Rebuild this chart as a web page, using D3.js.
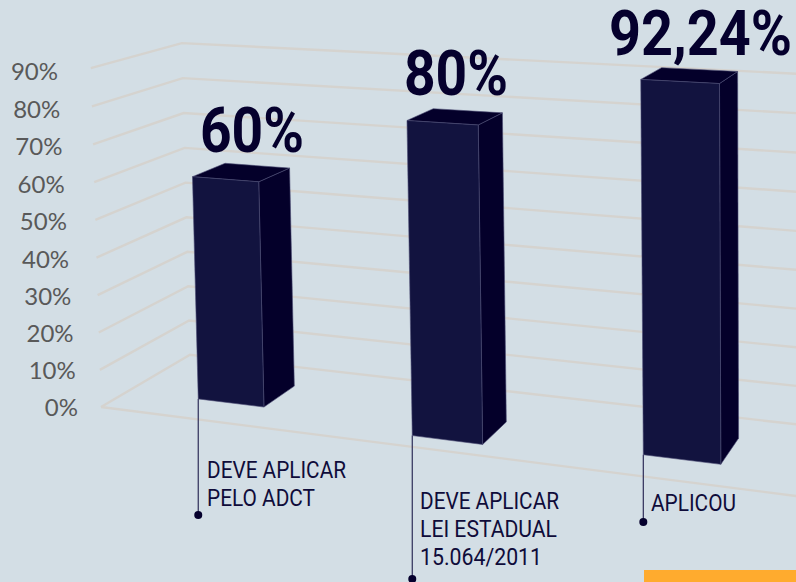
<!DOCTYPE html>
<html>
<head>
<meta charset="utf-8">
<script src="https://d3js.org/d3.v7.min.js"></script>
<style>
  html, body { margin: 0; padding: 0; background: #d3dee5; overflow: hidden; }
  svg { display: block; }
</style>
</head>
<body>
<div id="chart"></div>
<script>
var width = 796,
  height = 582;

// chart values
var ticks = [0, 10, 20, 30, 40, 50, 60, 70, 80, 90];
var values = [60, 80, 92.24];
var valueLabels = ["60%", "80%", "92,24%"];
var categories = [
  ["DEVE APLICAR", "PELO ADCT"],
  ["DEVE APLICAR", "LEI ESTADUAL", "15.064/2011"],
  ["APLICOU"]
];

// where each bar stands on the floor, 0..1 along the front edge and 0..1 in depth
var barSpots = [
  { x0: 0.1145, x1: 0.2206, z0: 0.30, z1: 0.68 },
  { x0: 0.4655, x1: 0.568, z0: 0.155, z1: 0.52 },
  { x0: 0.782, x1: 0.8866, z0: 0.29, z1: 0.69 }
];
var labelBoxes = [
  { left: 200, right: 304, base: 152 },
  { left: 404, right: 508, base: 95 },
  { left: 609, right: 792, base: 55 }
];
var categoryBoxes = [
  { x: 207, base: 478, w: [139, 108], stem: 515 },
  { x: 420, base: 509, w: [139, 137, 122], stem: 579 },
  { x: 651, base: 511, w: [85], stem: 522 }
];

// vanishing points of the three chart directions, with their weights
var origin = [101, 407];
var vpX = [-4600, -195], wX = -0.1288;
var vpY = [800, 23600], wY = -0.0144 / 90;
var vpZ = [1197, -236], wZ = 0.0884;

function project(x, v, z) {
  var a = wX * x, b = wY * v, c = wZ * z,
    d = a + b + c + 1;
  return [
    (a * vpX[0] + b * vpY[0] + c * vpZ[0] + origin[0]) / d,
    (a * vpX[1] + b * vpY[1] + c * vpZ[1] + origin[1]) / d
  ];
}

var tickX = d3.scaleLinear().domain([0, 90]).range([78, 58]);
var tickDy = d3.scaleLinear().domain([0, 90]).range([9, 11.5]);

var svg = d3.select("#chart").append("svg")
  .attr("width", width)
  .attr("height", height)
  .style("background", "#d3dee5");

var line = d3.line();

// grid
var grid = svg.append("g")
  .attr("fill", "none")
  .attr("stroke", "#d5d3cf")
  .attr("stroke-width", 2.4);

grid.selectAll("path.wall")
  .data(ticks)
  .enter().append("path")
    .attr("class", "wall")
    .attr("d", function(t) {
      return line([project(0, t, 0), project(0, t, 1), project(1, t, 1)]);
    });

grid.append("path")
  .attr("d", line([project(0, 0, 0), project(1, 0, 0)]));

// axis labels
svg.append("g").selectAll("text")
  .data(ticks)
  .enter().append("text")
    .attr("x", function(t) { return tickX(t); })
    .attr("y", function(t) { return project(0, t, 0)[1] + tickDy(t); })
    .attr("text-anchor", "end")
    .attr("font-family", "Lato")
    .attr("font-size", 24)
    .attr("fill", "#595959")
    .text(function(t) { return t + "%"; });

// leader lines
var bars = values.map(function(v, i) {
  return { value: v, spot: barSpots[i], cat: categories[i], box: categoryBoxes[i], label: labelBoxes[i] };
});

var leaders = svg.append("g");
bars.forEach(function(d) {
  var foot = project(d.spot.x0, 0, d.spot.z0);
  leaders.append("line")
    .attr("x1", foot[0]).attr("x2", foot[0])
    .attr("y1", foot[1]).attr("y2", d.box.stem)
    .attr("stroke", "#2e2d58")
    .attr("stroke-width", 1.2);
  leaders.append("circle")
    .attr("cx", foot[0])
    .attr("cy", d.box.stem)
    .attr("r", 4)
    .attr("fill", "#05002d");
});

// bars
var barG = svg.append("g").selectAll("g")
  .data(bars)
  .enter().append("g")
    .attr("stroke", "#4b4b73")
    .attr("stroke-width", 0.6)
    .attr("stroke-linejoin", "round");

barG.append("path")
  .attr("fill", "#04002a")
  .attr("d", function(d) {
    var s = d.spot;
    return line([project(s.x1, 0, s.z0), project(s.x1, 0, s.z1), project(s.x1, d.value, s.z1), project(s.x1, d.value, s.z0)]) + "Z";
  });

barG.append("path")
  .attr("fill", "#04002a")
  .attr("d", function(d) {
    var s = d.spot;
    return line([project(s.x0, d.value, s.z0), project(s.x0, d.value, s.z1), project(s.x1, d.value, s.z1), project(s.x1, d.value, s.z0)]) + "Z";
  });

barG.append("path")
  .attr("fill", "#12133f")
  .attr("d", function(d) {
    var s = d.spot;
    return line([project(s.x0, 0, s.z0), project(s.x1, 0, s.z0), project(s.x1, d.value, s.z0), project(s.x0, d.value, s.z0)]) + "Z";
  });

// big value labels
svg.append("g").selectAll("text")
  .data(bars)
  .enter().append("text")
    .attr("x", function(d) { return d.label.left; })
    .attr("y", function(d) { return d.label.base; })
    .attr("textLength", function(d) { return d.label.right - d.label.left; })
    .attr("lengthAdjust", "spacingAndGlyphs")
    .attr("font-family", "Roboto")
    .attr("font-weight", 700)
    .attr("font-size", 63)
    .attr("fill", "#05002d")
    .text(function(d, i) { return valueLabels[i]; });

// category labels
bars.forEach(function(d) {
  d.cat.forEach(function(row, j) {
    svg.append("text")
      .attr("x", d.box.x)
      .attr("y", d.box.base + j * 28.2)
      .attr("textLength", d.box.w[j])
      .attr("lengthAdjust", "spacingAndGlyphs")
      .attr("font-family", "Roboto")
      .attr("font-size", 23)
      .attr("fill", "#0f0c3a")
      .text(row);
  });
});

// corner of the next block on the slide
svg.append("rect")
  .attr("x", 644)
  .attr("y", 570)
  .attr("width", 152)
  .attr("height", 12)
  .attr("fill", "#ffab2e");
</script>
</body>
</html>
